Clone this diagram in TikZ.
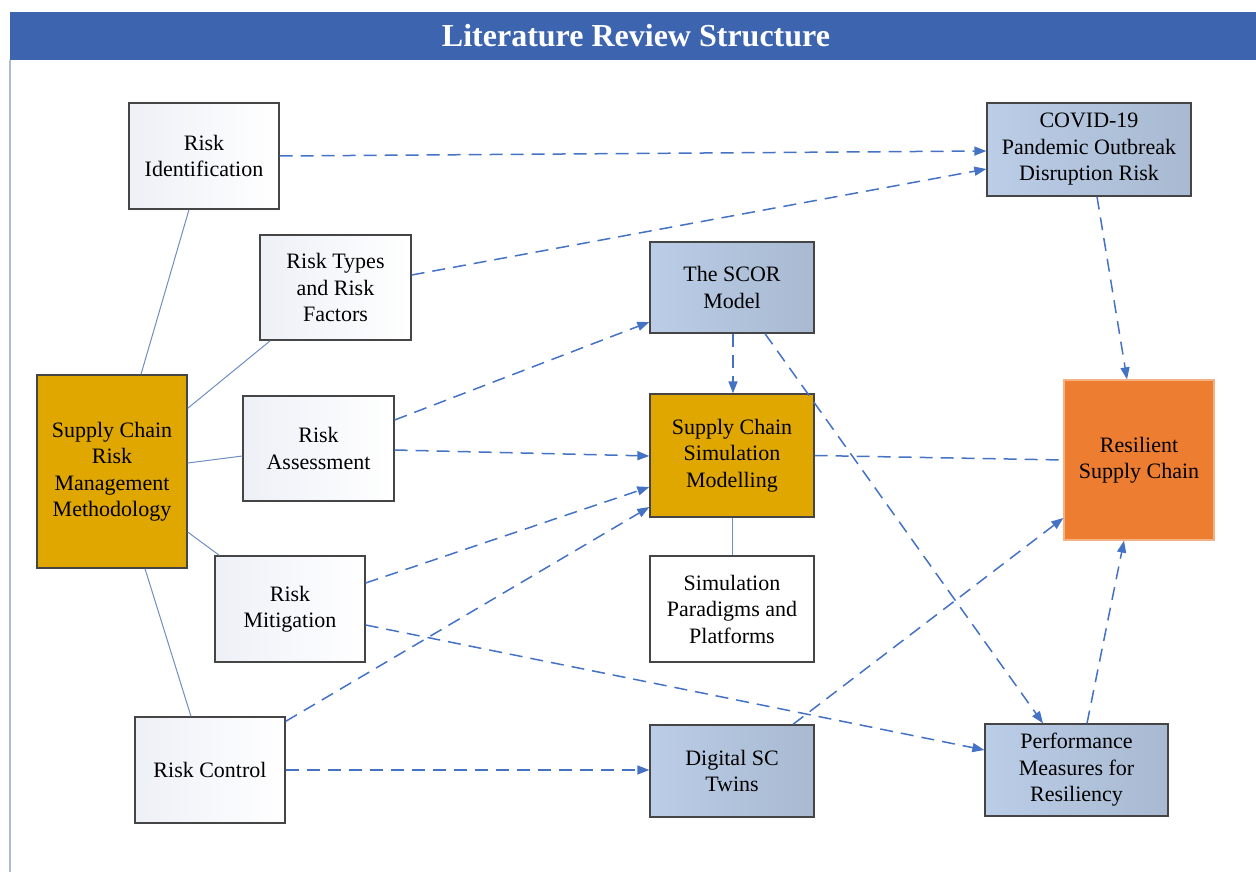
\documentclass[tikz,border=0pt]{standalone}
\usepackage{fontspec}
\setmainfont{Liberation Serif}
\usetikzlibrary{arrows.meta,calc}
\definecolor{titleblue}{HTML}{3D64AE}
\definecolor{gold}{HTML}{DFA700}
\definecolor{resorange}{HTML}{ED7D31}
\definecolor{resborder}{HTML}{F4B183}
\definecolor{bgA}{HTML}{BBCDE7}
\definecolor{bgB}{HTML}{A8B9D1}
\definecolor{wA}{HTML}{EEF0F7}
\definecolor{arrowblue}{HTML}{4472C4}
\definecolor{linkblue}{HTML}{6F8DBF}
\definecolor{boxborder}{HTML}{454545}
\definecolor{framegray}{HTML}{AEBBC8}
\tikzset{
  box/.style={draw=boxborder, line width=1.3pt, align=center, inner sep=2pt,
    font=\fontsize{22}{26.5}\selectfont},
  whitebox/.style={box, left color=wA, right color=white},
  bluebox/.style={box, left color=bgA, right color=bgB},
  goldbox/.style={box, fill=gold},
  orangebox/.style={box, fill=resorange, draw=resborder},
  dasharrow/.style={draw=arrowblue, line width=1.5pt, dash pattern=on 13pt off 8pt,
    -{Triangle[length=12pt,width=9pt]}},
  dashline/.style={draw=arrowblue, line width=1.5pt, dash pattern=on 13pt off 8pt},
  link/.style={draw=linkblue, line width=1pt},
}
\begin{document}
\begin{tikzpicture}[x=1pt,y=-1pt]
\useasboundingbox (0,0) rectangle (1256,872);
% frame and title
\draw[framegray, line width=2pt] (10,60) -- (10,872);
\fill[titleblue] (10,12) rectangle (1256,60);
\node[text=white, font=\bfseries\fontsize{32}{34}\selectfont] (title) at (636,36) {Literature Review Structure};
% left column
\node[whitebox, minimum width=150pt, minimum height=106pt] (ri) at (204,156) {Risk\\Identification};
\node[whitebox, minimum width=151pt, minimum height=105pt] (rt) at (335.5,287.5) {Risk Types\\and Risk\\Factors};
\node[whitebox, minimum width=151pt, minimum height=105pt] (ra) at (318.5,448.5) {Risk\\Assessment};
\node[whitebox, minimum width=150pt, minimum height=106pt] (rm) at (290,609) {Risk\\Mitigation};
\node[whitebox, minimum width=150pt, minimum height=106pt] (rc) at (210,770) {Risk Control};
\node[goldbox, minimum width=150pt, minimum height=193pt] (scrm) at (112,471.5) {Supply Chain\\Risk\\Management\\Methodology};
% middle column
\node[bluebox, minimum width=164pt, minimum height=91pt] (scor) at (732,287.5) {The SCOR\\Model};
\node[goldbox, minimum width=164pt, minimum height=123pt] (scsim) at (732,455.5) {Supply Chain\\Simulation\\Modelling};
\node[box, fill=white, minimum width=164pt, minimum height=106pt] (simp) at (732,609) {Simulation\\Paradigms and\\Platforms};
\node[bluebox, minimum width=164pt, minimum height=92pt] (dt) at (732,771) {Digital SC\\Twins};
% right column
\node[bluebox, minimum width=204pt, minimum height=93pt] (covid) at (1089,149.5) {COVID-19\\Pandemic Outbreak\\Disruption Risk};
\node[orangebox, minimum width=150pt, minimum height=160pt] (res) at (1139,460) {Resilient\\Supply Chain};
\node[bluebox, minimum width=183pt, minimum height=92pt] (pm) at (1076.5,770) {Performance\\Measures for\\Resiliency};
% solid links
\draw[link] ($(scrm.north)+(29,0)$) -- ($(ri.south)+(-15,0)$);
\draw[link] ($(scrm.north east)+(0,34)$) -- ($(rt.south west)+(11,0)$);
\draw[link] ($(scrm.east)+(0,-8.5)$) -- ($(ra.west)+(0,7.5)$);
\draw[link] ($(scrm.east)+(0,60.5)$) -- ($(rm.north west)+(5,0)$);
\draw[link] ($(scrm.south)+(33,0)$) -- ($(rc.north)+(-19,0)$);
\draw[link] (scsim.south) -- (simp.north);
% dashed arrows
\draw[dasharrow] (ri.east) -- ($(covid.west)+(0,1.5)$);
\draw[dasharrow] ($(rt.east)+(0,-12.5)$) -- ($(covid.west)+(0,19.5)$);
\draw[dasharrow] ($(ra.east)+(0,-28.5)$) -- ($(scor.west)+(0,34.5)$);
\draw[dasharrow] ($(ra.east)+(0,1.5)$) -- ($(scsim.west)+(0,0.5)$);
\draw[dasharrow] ($(rm.east)+(0,-26)$) -- ($(scsim.west)+(0,31.5)$);
\draw[dasharrow] ($(rc.north east)+(0,5)$) -- ($(scsim.west)+(0,51.5)$);
\draw[dasharrow] (rc.east) -- ($(dt.west)+(0,-1)$);
\draw[dasharrow] ($(rm.east)+(0,16)$) -- ($(pm.west)+(0,-20)$);
\draw[dasharrow] ($(scor.south)+(1,0)$) -- ($(scsim.north)+(1,0)$);
\draw[dasharrow] ($(scor.south)+(33,0)$) -- ($(pm.north)+(-33.5,0)$);
\draw[dashline] (scsim.east) -- (res.west);
\draw[dasharrow] ($(covid.south)+(8,0)$) -- ($(res.north)+(-12,0)$);
\draw[dasharrow] ($(dt.north)+(61,0)$) -- ($(res.west)+(0,58)$);
\draw[dasharrow] ($(pm.north)+(10.5,0)$) -- ($(res.south)+(-15,0)$);
\end{tikzpicture}
\end{document}
